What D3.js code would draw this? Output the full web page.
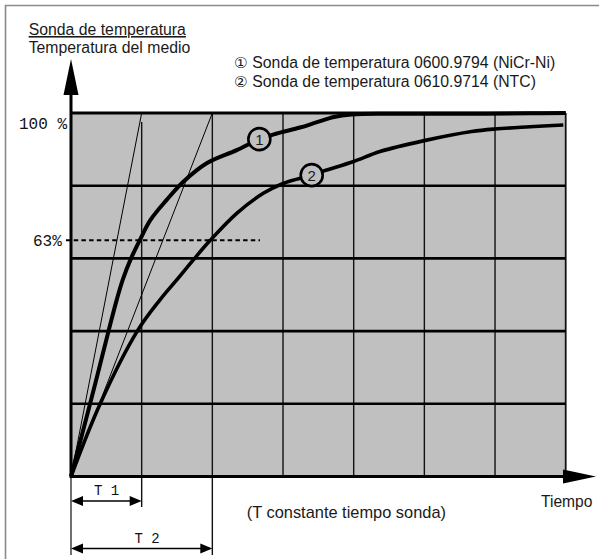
<!DOCTYPE html>
<html>
<head>
<meta charset="utf-8">
<script src="https://cdn.jsdelivr.net/npm/d3@7"></script>
<style>
  html, body { margin: 0; padding: 0; background: #fff; }
  svg { display: block; }
  .sans { font-family: "Liberation Sans", Arial, Helvetica, sans-serif; fill: #1a1a1a; }
  .mono { font-family: "Liberation Mono", "Courier New", monospace; fill: #111; }
</style>
</head>
<body>
<svg id="chart" width="599" height="559"></svg>
<script>
// ---------- data ----------
const timeGrid = [0, 1, 2, 3, 4, 5, 6, 7];        // time-constant grid columns
const levelGrid = [0, 20, 40, 60, 80, 100];       // % of medium temperature
const level63 = 65;                               // dashed 63 % reference line (as drawn)
const tickLabels = ["100 %", "63%"];

// Probe 1: 0600.9794 (NiCr-Ni)
const probe1Time = [0, 0.27, 0.535, 0.647, 0.735, 0.845, 0.976, 1.118, 1.354, 1.589, 1.920, 2.345, 2.665, 2.90, 3.24, 3.47, 3.72, 3.97, 4.5, 5.5, 6.5, 7.0];
const probe1Pct  = [0, 20.0, 40.3, 48.6, 54.3, 59.8, 65.1, 70.4, 76.1, 81.1, 86.2, 89.8, 92.8, 94.3, 96.0, 97.4, 98.9, 99.6, 99.8, 99.8, 99.9, 100];
// Probe 2: 0610.9714 (NTC)
const probe2Time = [0, 0.41, 0.938, 1.259, 1.496, 1.731, 1.967, 2.345, 2.721, 3.0, 3.406, 3.566, 3.99, 4.372, 4.999, 5.67, 6.0, 6.495, 6.966];
const probe2Pct  = [0, 19.9, 40.0, 48.6, 54.1, 59.6, 64.9, 72.4, 77.9, 80.6, 82.9, 84.0, 86.6, 89.4, 92.4, 94.9, 95.6, 96.2, 96.7];

const tangentEnds = [1, 2];                       // T1, T2 tangents reach 100 %
const markerTime = [2.665, 3.406];
const markerPct  = [92.8, 82.9];
const markerLabels = ["1", "2"];
const legendSymbols = ["\u2460", "\u2461"];
const legendTexts = ["Sonda de temperatura 0600.9794 (NiCr-Ni)", "Sonda de temperatura 0610.9714 (NTC)"];
const dimLabels = ["T 1", "T 2"];

// ---------- scales ----------
const svg = d3.select("#chart");
const x = d3.scaleLinear().domain([0, 7]).range([71, 565.7]);
const y = d3.scaleLinear().domain([0, 100]).range([476.5, 113]);

// outer frame (top + left only)
svg.append("path").attr("d", "M5.5,559 V5.5 H599").attr("fill", "none")
  .attr("stroke", "#8a8a8a").attr("stroke-width", 1.6);

// plot background
svg.append("rect").attr("x", x(0)).attr("y", y(100))
  .attr("width", x(7) - x(0)).attr("height", y(0) - y(100)).attr("fill", "#c0c0c0");

// vertical grid lines (with T1 / T2 extensions)
const vExt = { 0: 555, 1: 507, 2: 555 };
const vTop = { 1: y(97.5) };
svg.append("g").selectAll("line").data(timeGrid.slice(1)).join("line")
  .attr("x1", d => x(d)).attr("x2", d => x(d))
  .attr("y1", d => vTop[d] !== undefined ? vTop[d] : y(100))
  .attr("y2", d => vExt[d] || y(0))
  .attr("stroke", "#111").attr("stroke-width", d => d === 7 ? 1.8 : 1.4);
svg.append("line").attr("x1", x(0)).attr("x2", x(0)).attr("y1", y(0)).attr("y2", vExt[0])
  .attr("stroke", "#111").attr("stroke-width", 1.2);

// horizontal grid lines
svg.append("g").selectAll("line").data(levelGrid.slice(1, -1)).join("line")
  .attr("x1", x(0)).attr("x2", x(7)).attr("y1", d => y(d)).attr("y2", d => y(d))
  .attr("stroke", "#000").attr("stroke-width", 2.6);
// top line (100 %)
svg.append("line").attr("x1", x(0)).attr("x2", x(7)).attr("y1", y(100)).attr("y2", y(100))
  .attr("stroke", "#000").attr("stroke-width", 3);

// tangent lines
svg.append("g").selectAll("line").data(tangentEnds).join("line")
  .attr("x1", x(0)).attr("y1", y(0)).attr("x2", d => x(d)).attr("y2", y(100))
  .attr("stroke", "#000").attr("stroke-width", 1);

// dashed 63 % line
svg.append("line").attr("x1", 66).attr("x2", 260).attr("y1", y(level63)).attr("y2", y(level63))
  .attr("stroke", "#000").attr("stroke-width", 2).attr("stroke-dasharray", "4.5,3.2");

// curves
const line = d3.line().x(d => x(d[0])).y(d => y(d[1])).curve(d3.curveCatmullRom.alpha(0.5));
svg.append("path").datum(d3.zip(probe2Time, probe2Pct)).attr("d", line)
  .attr("fill", "none").attr("stroke", "#000").attr("stroke-width", 3.6).attr("stroke-linejoin", "round");
svg.append("path").datum(d3.zip(probe1Time, probe1Pct)).attr("d", line)
  .attr("fill", "none").attr("stroke", "#000").attr("stroke-width", 4).attr("stroke-linejoin", "round");

// curve markers
const mk = svg.append("g").selectAll("g").data(d3.range(markerTime.length)).join("g")
  .attr("transform", i => `translate(${x(markerTime[i])},${y(markerPct[i])})`);
mk.append("circle").attr("r", 11).attr("fill", "#c0c0c0").attr("stroke", "#000").attr("stroke-width", 2.6);
mk.append("text").attr("class", "sans").attr("text-anchor", "middle").attr("y", 5.5)
  .attr("font-size", 15).text(i => markerLabels[i]);

// axes
svg.append("line").attr("x1", x(0)).attr("x2", x(0)).attr("y1", y(0) + 1.5).attr("y2", 92)
  .attr("stroke", "#000").attr("stroke-width", 3);
svg.append("path").attr("d", `M${x(0) - 7.5},95 L${x(0)},59 L${x(0) + 7.5},95 Z`).attr("fill", "#000");
svg.append("line").attr("x1", x(0)).attr("x2", 566).attr("y1", y(0)).attr("y2", y(0))
  .attr("stroke", "#000").attr("stroke-width", 3);
svg.append("path").attr("d", `M563,${y(0) - 7} L596,${y(0)} L563,${y(0) + 7} Z`).attr("fill", "#000");

// tick labels
svg.append("text").attr("class", "mono").attr("x", 19).attr("y", 129).attr("font-size", 16).text(tickLabels[0]);
svg.append("text").attr("class", "mono").attr("x", 33).attr("y", 246).attr("font-size", 16).text(tickLabels[1]);

// dimension arrows T1 / T2
const dimY = [501, 548.5];
const dg = svg.append("g").selectAll("g").data(tangentEnds).join("g");
dg.append("line").attr("x1", x(0) + 10).attr("x2", d => x(d) - 10)
  .attr("y1", (d, i) => dimY[i]).attr("y2", (d, i) => dimY[i]).attr("stroke", "#000").attr("stroke-width", 1.5);
dg.append("path").attr("d", (d, i) => `M${x(0)},${dimY[i]} L${x(0) + 12},${dimY[i] - 5} L${x(0) + 12},${dimY[i] + 5} Z`).attr("fill", "#000");
dg.append("path").attr("d", (d, i) => `M${x(d)},${dimY[i]} L${x(d) - 12},${dimY[i] - 5} L${x(d) - 12},${dimY[i] + 5} Z`).attr("fill", "#000");
const dimLabelX = [106.5, 147];
dg.append("text").attr("class", "mono").attr("text-anchor", "middle")
  .attr("x", (d, i) => dimLabelX[i]).attr("y", (d, i) => dimY[i] - 6).attr("font-size", 14)
  .text((d, i) => dimLabels[i]);

// titles
svg.append("text").attr("class", "sans").attr("x", 28.7).attr("y", 35).attr("font-size", 15.8)
  .attr("text-decoration", "underline").text("Sonda de temperatura");
svg.append("text").attr("class", "sans").attr("x", 28.7).attr("y", 53.3).attr("font-size", 15.8)
  .text("Temperatura del medio");

// legend
const lg = svg.append("g").selectAll("g").data(legendTexts).join("g");
lg.append("text").attr("class", "sans").attr("x", 234).attr("y", (d, i) => 68.3 + i * 18.6)
  .attr("font-size", 15).style("font-family", "'DejaVu Sans', sans-serif").text((d, i) => legendSymbols[i]);
lg.append("text").attr("class", "sans").attr("x", 252.3).attr("y", (d, i) => 68.3 + i * 18.6)
  .attr("font-size", 15.8).text(d => d);

// x-axis caption
svg.append("text").attr("class", "sans").attr("x", 541).attr("y", 507).attr("font-size", 15.6).text("Tiempo");
svg.append("text").attr("class", "sans").attr("x", 446).attr("y", 518).attr("text-anchor", "end")
  .attr("font-size", 16.4).text("(T constante tiempo sonda)");
</script>
</body>
</html>
